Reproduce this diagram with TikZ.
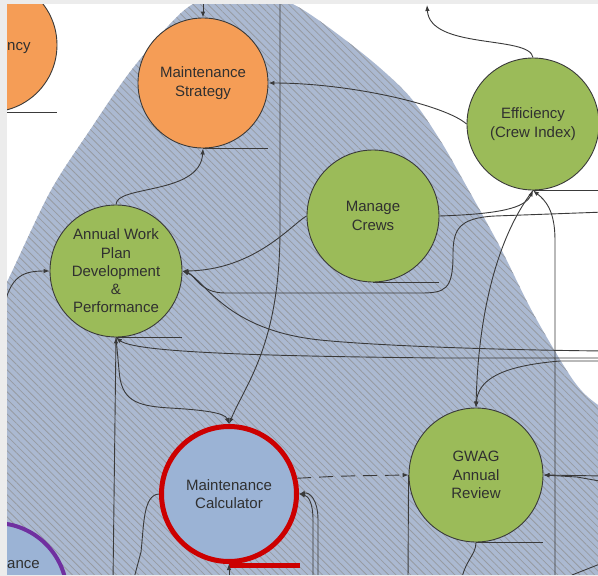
\documentclass[tikz,border=0pt]{standalone}
\usepackage{fontspec}
\setmainfont{Liberation Sans}
\usepackage{xcolor}
\usetikzlibrary{arrows.meta,patterns.meta}

\definecolor{frame}{HTML}{ECECEC}
\definecolor{blob}{HTML}{ABB9D1}
\definecolor{hatch}{HTML}{979BA2}
\definecolor{stroke}{HTML}{3A3A3A}
\definecolor{ink}{HTML}{303030}
\definecolor{orangebub}{HTML}{F59D56}
\definecolor{greenbub}{HTML}{9BBB59}
\definecolor{calcblue}{HTML}{9BB3D5}
\definecolor{calcred}{HTML}{CC0000}
\definecolor{purplering}{HTML}{7030A0}

\tikzset{
  bubble/.style={circle,draw=stroke,line width=0.9pt,inner sep=0pt,minimum size=#1,
    align=center,text=ink,font=\fontsize{15}{18.3}\selectfont},
  link/.style={draw=stroke,line width=0.9pt},
  arr/.style={link,-{Latex[length=6pt,width=4.5pt]}},
}

\begin{document}
\begin{tikzpicture}[x=1pt,y=-1pt]
\useasboundingbox (0,0) rectangle (598,576);
\fill[frame] (0,0) rectangle (598,576);
\fill[white] (7,4) rectangle (598,574);
\begin{scope}
\clip (7,4) rectangle (598,574);

% hatched region behind the bubbles
\path[fill=blob, postaction={pattern={Lines[angle=-45,distance=5.2pt,line width=0.8pt]}, pattern color=hatch}]
  plot[smooth] coordinates {(-25,345) (7,282) (50,192) (90,130) (133,68) (187,8) (243,-14) (300,8)
    (367,57) (410,97) (440,140) (463,180) (500,247) (533,313) (573,380) (598,405) (640,430)}
  -- (640,620) -- (-25,620) -- cycle;

% bubbles
\node[bubble=134pt,fill=orangebub] (lf) at (-10,45) {};
\node[anchor=base west,inner sep=0pt,text=ink,font=\fontsize{15}{18.3}\selectfont] (lfText) at (7,50) {ncy};
\node[bubble=130pt,fill=orangebub] (ms) at (203,83) {Maintenance\\Strategy};
\node[bubble=132pt,fill=greenbub] (ef) at (533,124) {Efficiency\\(Crew Index)};
\node[bubble=132pt,fill=greenbub] (mcr) at (373,216) {Manage\\Crews};
\node[bubble=132pt,fill=greenbub] (aw) at (116,271) {Annual Work\\Plan\\Development\\\&\\Performance};
\node[bubble=134pt,fill=greenbub] (gw) at (476,475) {GWAG\\Annual\\Review};
\node[bubble=135pt,fill=calcblue,draw=calcred,line width=5pt] (mc) at (229,494) {Maintenance\\Calculator};
\node[bubble=144pt,fill=calcblue,draw=purplering,line width=4pt] (pp) at (-5,595) {};
\node[anchor=base west,inner sep=0pt,text=ink,font=\fontsize{15}{18.3}\selectfont] (ppText) at (7,568) {ance};

% lines under each bubble
\foreach \n in {lf,ms,mcr,aw,gw,ef}
  \draw[link] (\n.south) -- (\n.south -| \n.east);
\draw[calcred,line width=5pt] ([yshift=-1.5pt]mc.south) -- ++(71,0);

% loose ends at the border
\coordinate (msIn) at (203,-5);
\coordinate (calcIn) at (280,-5);
\coordinate (effOut) at (427,5);
\coordinate (rEdgeA) at (605,212);
\coordinate (rEdgeB) at (605,351);
\coordinate (rEdgeC) at (605,358);
\coordinate (rEdgeD) at (605,361);
\coordinate (rEdgeE) at (605,476);
\coordinate (rEdgeF) at (605,482);
\coordinate (lEdge) at (2,318);
\coordinate (bEdgeA) at (113,582);
\coordinate (bEdgeB) at (133,582);
\coordinate (bEdgeC) at (229,582);
\coordinate (bEdgeD) at (313,582);
\coordinate (bEdgeE) at (318,582);
\coordinate (bEdgeF) at (408,582);
\coordinate (bEdgeG) at (461,582);
\coordinate (bEdgeH) at (555,582);
\coordinate (cornA) at (572,575);
\coordinate (cornB) at (605,562);

% into Maintenance Strategy
\draw[arr] (msIn) -- (ms.north);
\draw[arr] (aw.north) .. controls (116,185) and (200,195) .. (ms.south);
\draw[arr] (ef.west) .. controls (445,105) and (350,83) .. (ms.east);

% around Efficiency
\draw[arr] (ef.north) .. controls (530,35) and (430,50) .. (effOut);
\draw[arr] (mcr.east) .. controls (500,214) and (525,208) .. (ef.south);
\draw[arr] (bEdgeH) -- (555,240) .. controls (555,210) and (545,200) .. (ef.south);
\draw[arr] (ef.south) .. controls (495,240) and (478,320) .. (gw.north);
\draw[arr] (rEdgeD) -- (560,361) .. controls (500,366) and (478,380) .. (gw.north);

% into Annual Work Plan
\draw[arr] (lEdge) .. controls (8,278) and (20,271) .. (aw.west);
\draw[arr] (mcr.west) .. controls (292,224) and (255,270) .. (aw.east);
\draw[arr] (rEdgeA) -- (495,216) .. controls (458,218) and (453,230) .. (453,255)
  .. controls (453,290) and (445,293) .. (420,293) -- (225,293) .. controls (200,293) and (195,275) .. (aw.east);
\draw[arr] (rEdgeB) .. controls (500,350) and (380,346) .. (320,340) .. controls (225,330) and (205,280) .. (aw.east);
\draw[arr] (rEdgeC) -- (440,358) .. controls (250,356) and (135,352) .. (aw.south);
\draw[arr] (bEdgeA) -- (aw.south);

% into Maintenance Calculator
\draw[arr] (calcIn) -- (280,230) .. controls (280,345) and (245,385) .. (mc.north);
\draw[arr] (aw.south) -- (119,370) .. controls (121,400) and (135,406) .. (170,408)
  .. controls (205,410) and (225,413) .. (mc.north);
\draw[arr] (bEdgeC) -- (mc.south);
\draw[arr] (bEdgeD) -- (313,520) .. controls (313,502) and (308,496) .. (mc.east);
\draw[arr] (bEdgeE) -- (318,520) .. controls (318,500) and (310,492) .. (mc.east);
\draw[link] (mc.west) .. controls (143,495) and (144,525) .. (141,552) -- (bEdgeB);
\draw[arr,dash pattern=on 14pt off 8pt] (mc.13) .. controls (340,476) .. (gw.west);

% around GWAG review
\draw[link] (bEdgeF) -- (gw.west);
\draw[arr] (rEdgeE) -- (gw.east);
\draw[arr] (rEdgeF) -- (577,477) -- (gw.east);
\draw[link] (gw.south) .. controls (476,555) and (465,560) .. (bEdgeG);
\draw[link] (cornA) -- (cornB);
\end{scope}
\end{tikzpicture}
\end{document}
